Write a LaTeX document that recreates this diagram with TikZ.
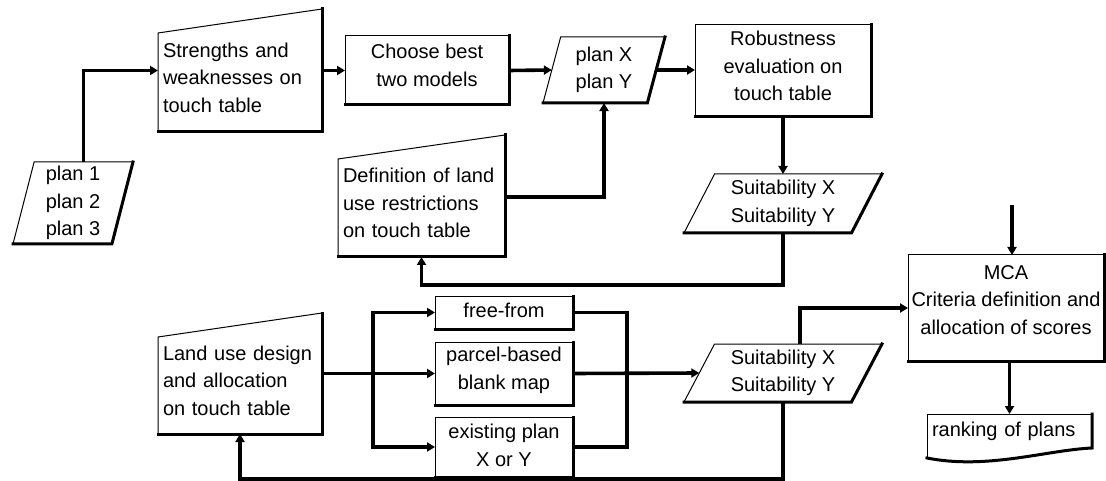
\documentclass[tikz,border=0pt]{standalone}
\usepackage{fontspec}
\setmainfont{Liberation Sans}
\usepackage{tikz}
\usetikzlibrary{shapes, arrows.meta, positioning, calc}

\begin{document}
\begin{tikzpicture}[
  x=1pt, y=-1pt,
  font=\fontsize{20}{27.5}\selectfont,
  box/.style    = {draw, rectangle, inner sep=0pt, outer sep=0pt,
                   align=center, line width=1pt, text depth=10pt},
  manual/.style = {rectangle, inner xsep=5pt, inner ysep=0pt, outer sep=0pt,
                   align=left, text depth=65pt},
  doc/.style    = {rectangle, inner xsep=5pt, inner ysep=0pt, outer sep=0pt,
                   align=left},
  data/.style   = {draw, trapezium, trapezium stretches body, inner sep=0pt,
                   outer sep=0pt, align=left, line width=1pt},
  thin/.style   = {line width=1pt},
  heavy/.style  = {line width=3pt, line cap=rect},
  link/.style   = {line width=3.6pt},
  arr/.style    = {-{Triangle[length=8pt,width=9pt]}, line width=3.6pt},
]
\useasboundingbox (0, 0) rectangle (1106, 481);

%% Upper loop
\node[data, minimum width=120pt, minimum height=82pt,
      trapezium left angle=74, trapezium right angle=106] (plans) at (73, 203)
     {plan 1\\plan 2\\plan 3};
\node[manual, text width=154pt, minimum height=99pt] (strength) at (240, 82.5)
     {Strengths and\\weaknesses on\\touch table};
\node[box, minimum width=164pt, minimum height=69pt] (choose) at (427, 70.5)
     {Choose best\\two models};
\node[data, minimum width=122pt, minimum height=66pt, text depth=4pt,
      trapezium left angle=69, trapezium right angle=111] (planxy) at (604, 70)
     {plan X\\plan Y};
\node[box, minimum width=176pt, minimum height=92pt] (robust) at (783, 71)
     {Robustness\\evaluation on\\touch table};
\node[data, minimum width=198pt, minimum height=59pt,
      trapezium left angle=56.5, trapezium right angle=123.5] (suit1) at (783, 203.5)
     {Suitability X\\Suitability Y};
\node[manual, text width=157pt, minimum height=98pt] (define) at (421.5, 208)
     {Definition of land\\use restrictions\\on touch table};

%% Lower loop
\node[manual, text width=154pt, minimum height=97pt] (landuse) at (240, 385.5)
     {Land use design\\and allocation\\on touch table};
\node[box, minimum width=138pt, minimum height=33pt, text depth=5pt] (freefrom) at (504, 312.5)
     {free-from};
\node[box, minimum width=138pt, minimum height=63pt] (parcel) at (504, 373.5)
     {parcel-based\\blank map};
\node[box, minimum width=138pt, minimum height=60pt, text depth=3pt] (existing) at (504, 447)
     {existing plan\\X or Y};
\node[data, minimum width=198pt, minimum height=58pt,
      trapezium left angle=56.5, trapezium right angle=123.5] (suit2) at (783, 373)
     {Suitability X\\Suitability Y};

%% Evaluation
\node[box, minimum width=196pt, minimum height=106pt, text depth=16pt] (mca) at (1006, 308)
     {MCA\\Criteria definition and\\allocation of scores};
\node[doc, text width=155pt, minimum height=34pt] (ranking) at (1009.5, 431)
     {ranking of plans};

%% Outlines
\foreach \n in {strength, define, landuse} {
  \draw[thin] (\n.south west) -- (\n.north west)
    -- ($(\n.north east)+(0,-24)$) -- (\n.south east) -- cycle;
  \draw[heavy] (\n.south west) -- (\n.south east) -- ($(\n.north east)+(0,-24)$);
}
\foreach \n in {choose, robust, freefrom, parcel, existing, mca}
  \draw[heavy] (\n.south west) -- (\n.south east) -- (\n.north east);
\foreach \n in {plans, planxy, suit1, suit2}
  \draw[heavy] (\n.bottom left corner) -- (\n.bottom right corner)
    -- (\n.top right corner);
\draw[thin] (ranking.south west) -- (ranking.north west) -- (ranking.north east);
\draw[heavy] (ranking.north east) -- (ranking.south east)
  .. controls ($(ranking.south east)+(-45,2)$) and ($(ranking.south west)+(60,22)$)
  .. ($(ranking.south west)+(0,10)$);
\draw[thin] ($(ranking.south west)+(0,10)$) -- (ranking.south west);

%% Connectors
\draw[arr] (plans.top side) |- (strength.west |- choose.west);
\draw[arr] (strength.east |- choose.west) -- (choose.west);
\draw[arr] (choose.east) -- (planxy.left side);
\draw[arr] (planxy.right side) -- (planxy.right side -| robust.west);
\draw[arr] ([yshift=11pt]define.east) -| (planxy.south);
\draw[arr] (robust.south) -- (suit1.north);
\draw[arr] (suit1.south) -- ++(0, 52) -| (define.south);

\coordinate (split) at (373, 373.5);
\coordinate (merge) at (627, 373.5);
\draw[link] (landuse.east |- parcel.west) -- (split);
\draw[arr] (split) -- (parcel.west);
\draw[arr] (split) |- (freefrom.west);
\draw[arr] (split) |- (existing.west);
\draw[link] (freefrom.east) -| (merge);
\draw[link] (existing.east) -| (merge);
\draw[arr] (parcel.east) -- (suit2.left side);
\draw[arr] ([xshift=17pt]suit2.north) |- (mca.west);
\draw[arr] (suit2.south) -- ++(0, 77) -| (landuse.south);

\coordinate (mcain) at (1012, 205);
\draw[arr] (mcain) -- (mcain |- mca.north);
\draw[arr] (ranking.north |- mca.south) -- (ranking.north);

\end{tikzpicture}
\end{document}
